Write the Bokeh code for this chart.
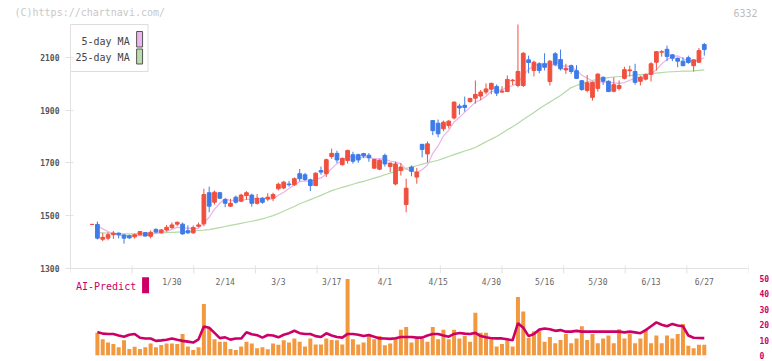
from bokeh.plotting import figure
from bokeh.layouts import column
from bokeh.models import Range1d, LinearAxis, FixedTicker, Span, Label, ColumnDataSource
from bokeh.core.properties import value
from bokeh.embed import file_html
from bokeh.resources import INLINE

# ---------------- data ----------------
opens = [1467,1467,1411,1415,1428,1434,1427,1424,1420,1428,1436,1422,1448,1436,1446,1455,1468,1468,1443,1435,
         1460,1469,1587,1551,1587,1561,1536,1570,1555,1576,1578,1547,1566,1563,1566,1602,1605,1620,1617,1659,
         1655,1636,1614,1671,1659,1724,1736,1693,1709,1731,1731,1735,1729,1680,1676,1728,1686,1620,1671,1542,
         1684,1646,1770,1734,1860,1850,1829,1841,1870,1915,1918,1932,1945,1953,1968,1979,1989,1968,1970,2011,
         1993,1993,2090,2050,2075,2075,2008,2113,2091,2052,2068,2049,2011,1974,1948,1982,2024,2009,1971,1982,
         2020,2049,2046,2009,2017,2035,2081,2119,2130,2109,2096,2085,2098,2068,2081,2148]
highs = [1467,1478,1434,1437,1442,1436,1430,1428,1432,1442,1438,1444,1452,1450,1465,1474,1478,1474,1463,1463,
         1474,1602,1610,1595,1590,1566,1564,1576,1583,1593,1583,1582,1570,1585,1587,1625,1632,1632,1645,1677,
         1662,1640,1664,1686,1716,1754,1746,1720,1750,1742,1735,1738,1737,1715,1713,1735,1701,1705,1699,1640,
         1690,1681,1772,1781,1862,1864,1860,1862,1932,1924,1951,1946,2012,1976,2001,2004,1997,1990,2031,2018,
         2224,2119,2106,2087,2081,2115,2090,2119,2129,2075,2072,2070,2014,2033,2008,2039,2027,2012,2024,2012,
         2064,2068,2075,2030,2038,2081,2123,2127,2144,2112,2099,2100,2106,2092,2135,2154]
lows = [1467,1410,1403,1407,1412,1414,1394,1412,1413,1425,1421,1414,1434,1431,1440,1450,1460,1428,1431,1431,
        1455,1460,1513,1542,1564,1532,1533,1546,1551,1560,1534,1542,1545,1555,1555,1596,1600,1610,1612,1630,
        1632,1593,1612,1655,1646,1715,1699,1690,1697,1697,1700,1718,1704,1678,1672,1686,1665,1615,1652,1513,
        1649,1621,1721,1702,1805,1797,1820,1830,1864,1882,1894,1928,1924,1938,1959,1960,1953,1965,1968,1995,
        1986,1987,2039,2027,2039,2050,1993,2066,2050,2037,2037,2018,1973,1967,1936,1970,1995,1968,1967,1974,
        2016,2027,1996,1993,2012,2008,2050,2102,2085,2085,2062,2066,2075,2046,2080,2106]
closes = [1467,1415,1418,1428,1434,1428,1415,1416,1428,1440,1423,1437,1438,1446,1456,1465,1475,1431,1435,1455,
          1465,1580,1536,1589,1566,1547,1547,1551,1578,1587,1547,1566,1551,1570,1580,1619,1627,1617,1640,1640,
          1637,1614,1661,1665,1712,1736,1711,1717,1747,1706,1711,1726,1719,1713,1710,1696,1699,1696,1684,1604,
          1668,1665,1751,1772,1822,1810,1854,1858,1930,1908,1910,1944,1959,1968,1980,2001,1964,1972,2016,2013,
          2046,2115,2080,2081,2050,2062,2085,2073,2056,2058,2046,2020,1978,2003,2005,2036,2009,1970,1996,1993,
          2053,2052,2005,2024,2034,2075,2121,2121,2103,2096,2085,2068,2080,2090,2125,2129]

# moving averages, starting at day index 1
ma5 = [1462,1450,1440,1432,1425,1425,1424,1424,1425,1424,1429,1433,1437,1440,1448,1456,1455,1452,1452,1452,
       1473,1494,1525,1547,1564,1557,1560,1558,1562,1562,1566,1566,1564,1563,1577,1589,1603,1617,1629,1632,
       1630,1638,1643,1658,1678,1697,1708,1725,1723,1718,1721,1722,1715,1716,1713,1707,1703,1697,1676,1670,
       1663,1674,1692,1736,1764,1802,1823,1855,1872,1892,1910,1930,1938,1952,1970,1974,1977,1987,1993,2002,
       2032,2054,2067,2074,2078,2072,2070,2065,2067,2064,2051,2032,2021,2010,2008,2006,2005,2003,2001,2004,
       2013,2020,2025,2034,2038,2052,2075,2091,2103,2105,2095,2086,2084,2090,2098]
ma25 = [1436,1435,1434,1433,1432,1431,1431,1431,1432,1432,1433,1434,1435,1436,1437,1438,1439,1440,1442,1444,
        1445,1447,1451,1455,1459,1463,1467,1471,1475,1479,1483,1488,1494,1500,1508,1517,1526,1535,1545,1553,
        1561,1569,1577,1586,1595,1601,1607,1613,1619,1625,1630,1636,1642,1648,1655,1661,1668,1673,1679,1684,
        1689,1695,1700,1705,1710,1717,1724,1731,1738,1745,1751,1758,1769,1780,1790,1800,1812,1825,1837,1850,
        1864,1877,1891,1905,1918,1930,1943,1955,1970,1985,1993,2000,2006,2012,2016,2020,2023,2025,2027,2028,
        2030,2032,2034,2036,2038,2040,2042,2044,2045,2046,2047,2047,2048,2050,2052]

# AI-Predict panel, starting at day index 1
ai_bars = [14.7,10.5,8.4,7.4,5.3,9.9,4.3,5.7,4.3,5.3,7.8,5.3,6.8,7.8,7.8,7.4,14.0,5.9,3.6,5.3,
           33.4,17.8,10.5,9.0,9.0,4.3,3.6,5.9,9.0,7.8,4.7,5.3,4.1,7.8,7.0,9.9,8.4,11.0,9.0,5.9,
           11.0,7.2,7.2,11.0,10.0,9.9,7.2,49.7,10.5,7.2,8.4,13.0,10.5,12.6,6.6,7.8,11.6,16.8,18.5,8.4,
           11.1,11.1,9.0,18.5,10.5,16.8,10.5,16.8,11.1,12.6,9.0,27.8,14.7,14.7,10.5,5.9,7.4,10.5,5.9,38.0,
           28.6,11.6,15.7,15.7,9.0,12.0,8.0,10.0,14.0,8.0,11.0,19.0,10.0,14.0,8.0,11.0,13.0,8.0,17.0,11.0,
           14.0,8.0,11.0,17.0,8.0,13.0,8.0,13.0,11.0,14.0,20.5,6.4,4.7,7.0,7.0,9.0]
ai_line = [15.3,14.2,14.0,14.0,13.0,12.2,13.5,14.0,11.5,11.0,11.0,9.5,9.8,10.2,11.0,10.2,9.5,9.0,8.4,10.5,
           18.9,18.0,14.7,11.3,11.8,10.3,11.0,11.0,15.1,13.8,13.2,11.6,13.3,13.0,11.8,13.5,14.5,16.1,14.5,14.0,
           14.0,12.6,12.0,14.4,13.0,12.0,11.6,14.0,14.0,13.5,12.6,13.3,12.2,11.1,11.0,10.8,11.2,12.0,12.0,12.0,
           11.6,11.6,13.0,14.0,14.0,13.0,12.2,14.0,14.6,14.2,14.0,14.7,12.6,11.8,11.2,11.1,11.1,10.5,9.9,21.0,
           18.0,12.6,14.0,16.8,17.5,17.0,16.0,16.5,15.5,15.5,16.0,15.5,15.5,15.5,15.5,15.5,15.5,15.5,15.5,15.0,
           15.5,15.0,14.5,16.5,19.0,21.5,20.0,19.0,20.5,19.5,19.0,13.0,11.5,11.4,11.3,11.3]

date_labels = ["1/30", "2/14", "3/3", "3/17", "4/1", "4/15", "4/30", "5/16", "5/30", "6/13", "6/27"]
date_label_idx = [15, 25, 35, 45, 55, 65, 75, 85, 95, 105, 115]
price_ticks = [1300, 1500, 1700, 1900, 2100]
ai_ticks = [0, 10, 20, 30, 40, 50]

# ---------------- geometry (page pixels) ----------------
W, H = 772, 361
HEAD = 18                                  # header strip height
FL, FR, FB = 70, 752, 355                 # main frame left/right/bottom (page px)
PX0, PXS = 91.7, 5.355                    # page x of day 0, px per day
PY0, PYS = 268.0, 0.2641                  # page y of 1300, px per yen
AIS = 1.54                                # px per AI unit, 0 at frame bottom

def dx(px):
    return (px - PX0) / PXS

def dy(py):
    return 1300 + (PY0 - py) / PYS

MONO = "DejaVu Sans Mono"
UP, DOWN = "#f0503e", "#3f7be8"
GRID = "#e2e2e2"

# ---------------- header strip ----------------
hd = figure(width=W, height=HEAD, output_backend="svg", toolbar_location=None, tools="",
            title=None, x_axis_location=None, y_axis_location=None,
            x_range=Range1d(0, W), y_range=Range1d(HEAD, 0),
            min_border_left=0, min_border_right=0, min_border_top=0, min_border_bottom=0)
hd.frame_align = False
hd.outline_line_color = None
hd.grid.grid_line_color = None
hd.text(x=[14], y=[12.4], text=["(C)https://chartnavi.com/"], text_font=value(MONO),
        text_font_size="10px", text_color="#c8c8c8", text_align="left", text_baseline="middle")
hd.text(x=[757], y=[12.2], text=["6332"], text_font=value(MONO),
        text_font_size="10px", text_color="#bdbdbd", text_align="right", text_baseline="middle")

# ---------------- main chart ----------------
p = figure(width=W, height=H - HEAD, output_backend="svg", toolbar_location=None, tools="",
           title=None, x_axis_location=None,
           x_range=Range1d(dx(FL), dx(FR)), y_range=Range1d(dy(FB), dy(HEAD)),
           min_border_left=FL, min_border_right=W - FR, min_border_top=0,
           min_border_bottom=H - FB)
p.frame_align = False
p.extra_y_ranges = {"ai": Range1d(0, (FB - HEAD) / AIS)}
p.outline_line_color = None
p.grid.grid_line_color = None

# left price axis
ya = p.yaxis[0]
ya.ticker = FixedTicker(ticks=price_ticks)
ya.bounds = (1300, dy(24))
ya.axis_line_color = GRID
ya.major_tick_line_color = GRID
ya.major_tick_in = 3
ya.major_tick_out = 5
ya.minor_tick_line_color = None
ya.major_label_text_font = MONO
ya.major_label_text_font_size = "8px"
ya.major_label_text_font_style = "bold"
ya.major_label_text_color = "#555555"
ya.major_label_standoff = 6

# right AI axis
ra = LinearAxis(y_range_name="ai", ticker=FixedTicker(ticks=ai_ticks),
                axis_line_color=None, major_tick_line_color=None, minor_tick_line_color=None,
                major_label_text_font=MONO, major_label_text_font_size="8px",
                major_label_text_font_style="bold", major_label_text_color="#cc0066",
                major_label_standoff=5)
p.add_layout(ra, "right")

# x axis line, tick marks and date labels
p.add_layout(Span(location=1300, dimension="width", line_color=GRID, line_width=1))
tick_x = [dx(FL + 62 * k) for k in range(12)]
p.segment(x0=tick_x, y0=[dy(PY0 + 5)] * 12, x1=tick_x, y1=[dy(PY0 - 3)] * 12,
          line_color=GRID, line_width=1)
p.text(x=date_label_idx, y=[dy(282)] * len(date_labels), text=date_labels,
       text_font=value(MONO), text_font_size="8px", text_color="#666666",
       text_align="center", text_baseline="middle")

# moving averages
ma_idx = list(range(1, len(closes)))
p.line(ma_idx, ma25, line_color="#b5d9a5", line_width=1.2)
p.line(ma_idx, ma5, line_color="#e9b3e9", line_width=1.2)

# candles
idx = list(range(len(closes)))
cols = [UP if c >= o else DOWN for o, c in zip(opens, closes)]
src = ColumnDataSource(dict(x=idx, o=opens, h=highs, l=lows, c=closes,
                            top=[max(o, c) for o, c in zip(opens, closes)],
                            bot=[min(o, c) for o, c in zip(opens, closes)], col=cols))
p.segment(x0="x", y0="l", x1="x", y1="h", line_color="col", line_width=1, source=src)
p.vbar(x="x", width=0.7, top="top", bottom="bot", fill_color="col", line_color="col",
       line_width=1, source=src)

# AI-Predict panel
p.vbar(x=ma_idx, width=0.75, top=ai_bars, bottom=0, y_range_name="ai",
       fill_color="#f2993f", line_color=None)
p.line(ma_idx, ai_line, y_range_name="ai", line_color="#cc0066", line_width=2.6)

# legend box
p.quad(left=dx(70), right=dx(148), top=dy(24), bottom=dy(71),
       fill_color="white", line_color="#dddddd", line_width=1)
p.quad(left=dx(136.5), right=dx(142.5), top=dy(31), bottom=dy(46.5),
       fill_color="#ecb6ec", line_color="#555555", line_width=1)
p.quad(left=dx(136.5), right=dx(142.5), top=dy(48.5), bottom=dy(63.5),
       fill_color="#badcab", line_color="#555555", line_width=1)
p.add_layout(Label(x=dx(129.5), y=dy(41), text="5-day MA", text_font=MONO, text_font_size="10px",
                   text_color="#444444", text_align="right", text_baseline="middle"))
p.add_layout(Label(x=dx(129.5), y=dy(56.7), text="25-day MA", text_font=MONO, text_font_size="10px",
                   text_color="#444444", text_align="right", text_baseline="middle"))

# AI-Predict label
p.add_layout(Label(x=dx(75.5), y=dy(286), text="AI-Predict", text_font=MONO, text_font_size="10px",
                   text_color="#cc0066", text_align="left", text_baseline="middle"))
p.quad(left=dx(142), right=dx(149), top=dy(276.7), bottom=dy(292.7),
       fill_color="#cc0066", line_color=None)

open("out.html", "w").write(file_html(column(hd, p, spacing=0), INLINE))
